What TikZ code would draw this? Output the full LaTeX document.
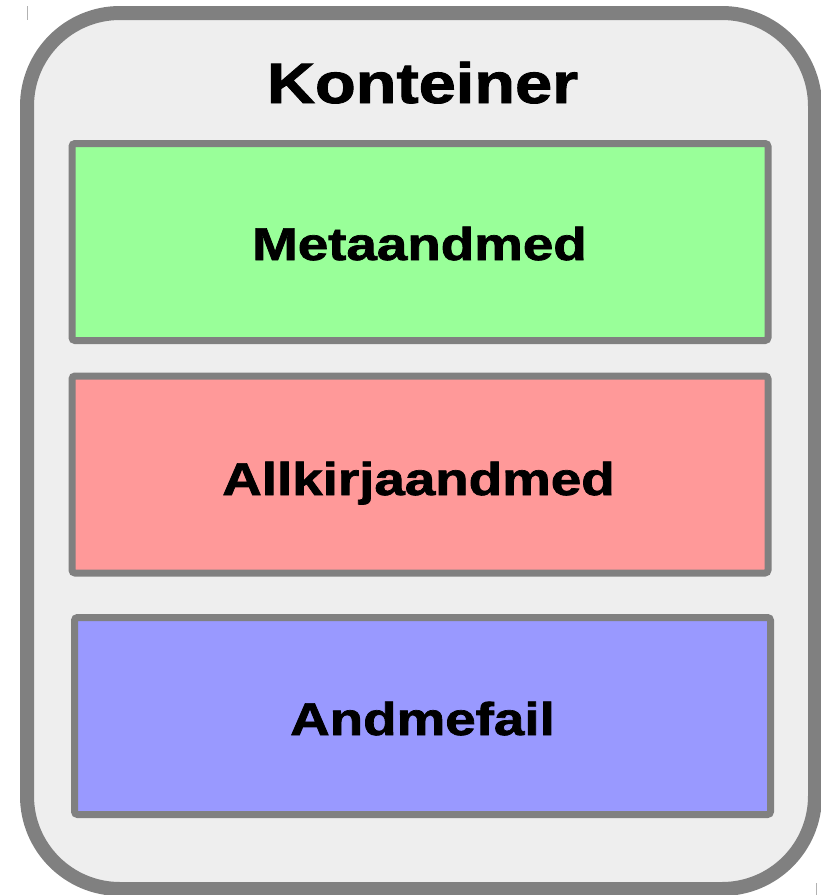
\documentclass[tikz,border=0pt]{standalone}
\usepackage{fontspec}
\setmainfont{Liberation Sans}
\newfontfamily\heavy[FakeBold=1.5]{Liberation Sans Bold}
\definecolor{edgegray}{HTML}{808080}
\definecolor{bgfill}{HTML}{EEEEEE}
\definecolor{greenfill}{HTML}{99FF99}
\definecolor{redfill}{HTML}{FF9999}
\definecolor{bluefill}{HTML}{9999FF}
\tikzset{
  part/.style={draw=edgegray, line width=7pt, rounded corners=3pt, rectangle, inner sep=0pt, minimum width=696pt, minimum height=197pt},
  label/.style={anchor=base, inner sep=0pt, font=\fontsize{46}{50}\heavy, xscale=1.19},
  tick/.style={draw=gray!60, line width=1pt}
}
\begin{document}
\begin{tikzpicture}[x=1pt,y=-1pt]
\useasboundingbox (0,0) rectangle (821,895);
\draw[draw=edgegray, fill=bgfill, line width=14pt, rounded corners=93pt] (27,13) rectangle (815,889);
\coordinate (t1a) at (27,6); \coordinate (t1b) at (27,20);
\coordinate (t2a) at (816,883); \coordinate (t2b) at (816,895);
\draw[tick] (t1a) -- (t1b);
\draw[tick] (t2a) -- (t2b);
\node[anchor=base, inner sep=0pt, font=\fontsize{57}{60}\heavy, xscale=1.17] (title) at (422.5,103) {Konteiner};
\node[part, fill=greenfill] (meta) at (420,242) {};
\node[part, fill=redfill] (sig) at (420,474.5) {};
\node[part, fill=bluefill] (data) at (422.5,716) {};
\node[label] (metat) at (419.5,260) {Metaandmed};
\node[label] (sigt) at (418.5,495) {Allkirjaandmed};
\node[label] (datat) at (422.5,735) {Andmefail};
\end{tikzpicture}
\end{document}
